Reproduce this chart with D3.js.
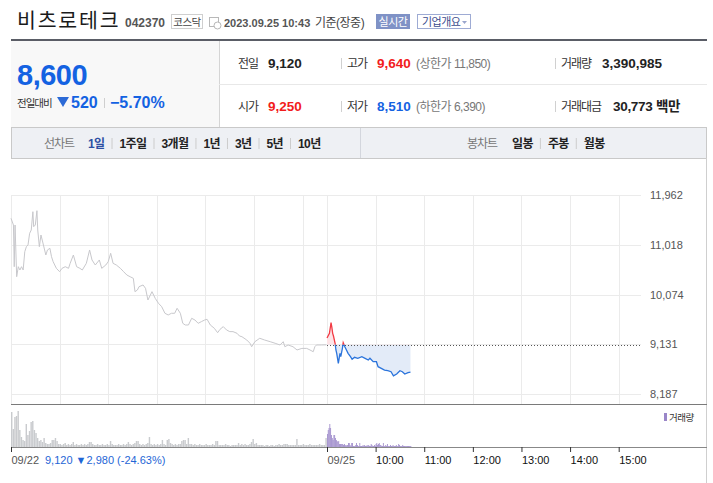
<!DOCTYPE html>
<html lang="ko">
<head>
<meta charset="utf-8">
<script src="https://cdn.jsdelivr.net/npm/d3@7"></script>
<style>
  html, body { margin: 0; padding: 0; background: #fff; }
  svg { display: block; }
</style>
</head>
<body>
<div id="chart"></div>
<script>
// fonts: latin from Liberation, hangul falls back to Noto CJK KR
const FONT = "'Liberation Sans', 'Noto Sans CJK KR', sans-serif";

// 09/22 price line (minutes after 09:00)
let prevMinute = [0, 3, 4, 5, 7, 9, 11, 13, 15, 17, 19, 21, 23, 25, 27, 28, 30, 32, 33, 35, 37, 40, 43, 45, 48, 50,
  52, 56, 60, 63, 67, 71, 73, 77, 81, 85, 88, 93, 97, 100, 104, 109, 112, 117, 120, 123, 126, 130, 135, 139, 143,
  147, 151, 153, 156, 158, 163, 166, 169, 172, 174, 178, 182, 186, 188, 190, 194, 198, 202, 205, 209, 212, 215, 219,
  223, 227, 231, 235, 239, 242, 246, 251, 255, 258, 262, 266, 270, 274, 279, 282, 285, 291, 295, 297, 301, 307, 313,
  320, 326, 332, 336, 338, 342, 348, 353, 359, 365, 369, 373, 375, 377, 383, 389];
let prevPrice = [11520, 11393, 10602, 11393, 10412, 10602, 10539, 10602, 10539, 10887, 10982, 11014, 11235, 11298,
  11645, 11361, 11393, 11664, 11298, 10982, 11203, 11014, 10824, 10919, 10951, 10792, 10697, 10571, 10507, 10571,
  10602, 10571, 10666, 10824, 10602, 10571, 10539, 10666, 10919, 10729, 10634, 10729, 10571, 10634, 10697, 10856,
  10666, 10634, 10571, 10507, 10444, 10412, 10381, 10128, 10160, 10223, 10255, 10192, 9970, 10065, 10128, 10002,
  9908, 9843, 9781, 9718, 9686, 9718, 9718, 9813, 9718, 9528, 9496, 9496, 9623, 9591, 9528, 9560, 9591, 9604, 9496,
  9433, 9350, 9414, 9465, 9402, 9370, 9370, 9338, 9287, 9274, 9211, 9149, 9084, 9179, 9244, 9211, 9179, 9149, 9117,
  9179, 9084, 9117, 9084, 9022, 9052, 9052, 9022, 8989, 9084, 9117, 9117, 9120];

// 09/25 price line (minutes after 09:00)
let todayMinute = [0, 3, 5, 6, 7, 8, 10, 11, 12, 14, 16, 17, 19, 20, 22, 24, 26, 29, 31, 34, 38, 43, 47, 51, 53,
  57, 61, 63, 67, 71, 75, 79, 82, 86, 90, 93, 96, 100, 103];
let todayPrice = [9250, 9338, 9540, 9452, 9338, 9287, 9149, 9022, 8958, 8769, 8958, 8895, 9054, 9160, 9084, 9022,
  8958, 8895, 8845, 8883, 8864, 8895, 8864, 8832, 8864, 8800, 8800, 8705, 8674, 8642, 8629, 8610, 8530, 8566, 8629,
  8610, 8566, 8591, 8600];

// volume, thousand shares: 09/22 in 2-minute buckets, 09/25 per minute
let prevVolume = [
  350, 180, 300, 310, 360, 170, 100, 70, 60, 230,
  120, 160, 250, 260, 170, 140, 90, 60, 70, 50,
  90, 40, 30, 30, 40, 70, 70, 90, 60, 30,
  30, 20, 30, 40, 20, 30, 20, 30, 50, 20,
  30, 20, 20, 30, 20, 30, 20, 30, 50, 50,
  30, 20, 20, 30, 20, 20, 30, 20, 20, 30,
  20, 60, 30, 20, 20, 20, 30, 20, 20, 30,
  20, 30, 50, 30, 20, 30, 40, 60, 60, 30,
  20, 30, 20, 30, 40, 100, 30, 20, 30, 20,
  30, 20, 30, 70, 30, 20, 70, 80, 40, 30,
  20, 30, 20, 30, 30, 60, 70, 70, 30, 90,
  30, 30, 20, 30, 20, 20, 30, 20, 20, 20,
  30, 20, 20, 20, 30, 20, 60, 60, 20, 20,
  20, 20, 30, 20, 20, 10, 20, 20, 20, 20,
  40, 20, 30, 20, 30, 20, 20, 30, 50, 80,
  30, 40, 20, 20, 20, 20, 10, 20, 20, 10,
  20, 20, 10, 20, 20, 30, 20, 20, 30, 30,
  30, 20, 20, 20, 20, 20, 80, 20, 20, 20,
  30, 20, 20, 20, 30, 20, 20, 20, 20, 20,
  30, 20, 20, 20, 90];
let todayVolume = [
  130, 170, 190, 230, 190, 120, 90, 70, 120, 120,
  90, 70, 60, 50, 60, 30, 30, 30, 30, 30,
  20, 30, 20, 10, 20, 20, 40, 40, 20, 10,
  40, 40, 10, 10, 10, 20, 40, 20, 10, 10,
  40, 10, 10, 10, 20, 10, 20, 10, 10, 20,
  10, 20, 10, 10, 30, 20, 10, 10, 20, 10,
  30, 40, 20, 30, 40, 20, 20, 10, 10, 40,
  10, 10, 20, 10, 30, 10, 10, 10, 20, 10,
  10, 20, 10, 10, 10, 20, 10, 10, 30, 20,
  10, 10, 10, 20, 10, 10, 10, 10, 10, 10,
  10, 10, 10, 10];

let prevClose = 9120;
let yTickValues = [8187, 9131, 10074, 11018, 11962];
let xTickMinute = [0, 390, 450, 510, 570, 630, 690, 750];
let xTickLabel = ["09/22", "09/25", "10:00", "11:00", "12:00", "13:00", "14:00", "15:00"];
let gridMinute = [0, 60, 120, 180, 240, 300, 360, 390, 450, 510, 570, 630, 690, 750];
let periodTabs = ["1일", "1주일", "3개월", "1년", "3년", "5년", "10년"];
let candleTabs = ["일봉", "주봉", "월봉"];

let svg = d3.select("#chart")
  .append("svg")
  .attr("width", 713)
  .attr("height", 483);

function fnText(parent, x, y, str, size, fill, weight, ls) {
  return parent.append("text")
    .attr("x", x)
    .attr("y", y)
    .attr("font-family", FONT)
    .attr("font-size", size)
    .attr("font-weight", weight || 400)
    .attr("letter-spacing", ls || 0)
    .attr("fill", fill)
    .text(str);
}

function fnBar(x1, y1, x2, y2, color) {
  svg.append("line")
    .attr("x1", x1).attr("y1", y1)
    .attr("x2", x2).attr("y2", y2)
    .attr("stroke", color);
}

// 1) header
fnText(svg, 17, 28, "비츠로테크", 20.5, "#1b1b1b", 400, 1.8);
fnText(svg, 125, 27, "042370", 12, "#555", 700);
svg.append("rect").attr("x", 171.5).attr("y", 14.5).attr("width", 31).attr("height", 14)
  .attr("fill", "#fff").attr("stroke", "#cfcfcf");
fnText(svg, 187, 25.5, "코스닥", 10.5, "#444", 400, -0.5).attr("text-anchor", "middle");
// little calendar/clock icon
svg.append("rect").attr("x", 209.5).attr("y", 17.5).attr("width", 9).attr("height", 9)
  .attr("fill", "none").attr("stroke", "#b8b8b8");
svg.append("circle").attr("cx", 217.5).attr("cy", 25.5).attr("r", 3.5)
  .attr("fill", "#fff").attr("stroke", "#b8b8b8");
fnText(svg, 224, 26.5, "2023.09.25 10:43", 11, "#555", 700);
fnText(svg, 315, 26.5, "기준(장중)", 12, "#444", 400, -0.5);
svg.append("rect").attr("x", 376).attr("y", 14).attr("width", 34).attr("height", 15).attr("fill", "#7f92c6");
fnText(svg, 393, 25.5, "실시간", 11, "#fff", 400, -0.5).attr("text-anchor", "middle");
svg.append("rect").attr("x", 417.5).attr("y", 14.5).attr("width", 53).attr("height", 14)
  .attr("fill", "#fff").attr("stroke", "#9eabd4");
fnText(svg, 422, 25.5, "기업개요", 11, "#3c4d8e", 400, -0.5);
svg.append("path").attr("d", "M462,21 L467,21 L464.5,24 Z").attr("fill", "#9aa6cc");
svg.append("rect").attr("x", 11).attr("y", 39).attr("width", 696).attr("height", 2).attr("fill", "#5a5d66");

// 2) quote summary
svg.append("rect").attr("x", 11).attr("y", 41).attr("width", 208).attr("height", 86).attr("fill", "#f8f8f8");
fnBar(219.5, 41, 219.5, 127, "#d5d5d5");
fnBar(219, 84.5, 707, 84.5, "#e8e8e8");
fnText(svg, 17, 85, "8,600", 29, "#1462e2", 700, -0.5);
fnText(svg, 17, 107, "전일대비", 10.5, "#333", 400, -1);
svg.append("path").attr("d", "M57,97 L69,97 L63,107 Z").attr("fill", "#2c6ad6");
fnText(svg, 71, 108, "520", 16, "#1462e2", 700);
fnBar(104.5, 98, 104.5, 108, "#cfcfcf");
fnText(svg, 110, 108, "−5.70%", 16, "#1462e2", 700);

fnText(svg, 238, 68, "전일", 12, "#333", 400, -1);
fnText(svg, 268, 68, "9,120", 13.5, "#222", 700);
fnBar(341.5, 58, 341.5, 69, "#d0d0d0");
fnText(svg, 347, 68, "고가", 12, "#333", 400, -1);
fnText(svg, 377, 68, "9,640", 13.5, "#f21c1c", 700);
fnText(svg, 416, 68, "(상한가 11,850)", 12, "#777", 400, -0.5);
fnBar(555.5, 58, 555.5, 69, "#d0d0d0");
fnText(svg, 561, 68, "거래량", 12, "#333", 400, -1);
fnText(svg, 602, 68, "3,390,985", 13.5, "#222", 700);

fnText(svg, 238, 111, "시가", 12, "#333", 400, -1);
fnText(svg, 268, 111, "9,250", 13.5, "#f21c1c", 700);
fnBar(341.5, 101, 341.5, 112, "#d0d0d0");
fnText(svg, 347, 111, "저가", 12, "#333", 400, -1);
fnText(svg, 377, 111, "8,510", 13.5, "#1462e2", 700);
fnText(svg, 416, 111, "(하한가 6,390)", 12, "#777", 400, -0.5);
fnBar(555.5, 101, 555.5, 112, "#d0d0d0");
fnText(svg, 561, 111, "거래대금", 12, "#333", 400, -1);
fnText(svg, 613, 111, "30,773 백만", 13.5, "#222", 700, -0.3);

// 3) tab bar
svg.append("rect").attr("x", 11.5).attr("y", 127.5).attr("width", 695).attr("height", 31)
  .attr("fill", "#eef0f4").attr("stroke", "#c9c9c9");
fnBar(360.5, 128, 360.5, 158, "#d3d6dd");
fnText(svg, 44, 148, "선차트", 12, "#777", 400, -1);
let intTabX = 88;
periodTabs.forEach((str, i) => {
  let t = fnText(svg, intTabX, 148, str, 12, i === 0 ? "#2d4fa3" : "#222", 700, -0.6);
  let w = t.node().getComputedTextLength();
  if (i < periodTabs.length - 1) fnBar(intTabX + w + 7.5, 138, intTabX + w + 7.5, 149, "#cccccc");
  intTabX += w + 15;
});
fnText(svg, 467, 148, "봉차트", 12, "#777", 400, -1);
intTabX = 512;
candleTabs.forEach((str, i) => {
  let t = fnText(svg, intTabX, 148, str, 12, "#222", 700, -0.6);
  let w = t.node().getComputedTextLength();
  if (i < candleTabs.length - 1) fnBar(intTabX + w + 7.5, 138, intTabX + w + 7.5, 149, "#cccccc");
  intTabX += w + 15;
});
fnBar(706.5, 158, 706.5, 483, "#cfcfcf");

// 4) scales
let fnX = d3.scaleLinear().domain([0, 780]).range([11, 643]);
let fnY = d3.scaleLinear().domain([8187, 11962]).range([394, 195]);
let fnV = d3.scaleLinear().domain([0, 360]).range([447, 411]);

let arrPrev = prevMinute.map((m, i) => ({ m: m, price: prevPrice[i] }));
let arrToday = todayMinute.map((m, i) => ({ m: 390 + m, price: todayPrice[i] }));

// 5) grid
let g = svg.append("g");
g.selectAll(".hgrid")
  .data(yTickValues)
  .enter()
  .append("line")
  .attr("class", "hgrid")
  .attr("x1", 11).attr("x2", 641)
  .attr("y1", d => Math.round(fnY(d)) + 0.5)
  .attr("y2", d => Math.round(fnY(d)) + 0.5)
  .attr("stroke", "#ebebeb");
g.selectAll(".vgrid")
  .data(gridMinute)
  .enter()
  .append("line")
  .attr("class", "vgrid")
  .attr("x1", d => Math.round(fnX(d)) + 0.5)
  .attr("x2", d => Math.round(fnX(d)) + 0.5)
  .attr("y1", 195).attr("y2", 404)
  .attr("stroke", "#ebebeb");

// 6) price lines
let yBase = fnY(prevClose);
svg.append("clipPath").attr("id", "clipUp")
  .append("rect").attr("x", 0).attr("y", 0).attr("width", 713).attr("height", yBase);
svg.append("clipPath").attr("id", "clipDown")
  .append("rect").attr("x", 0).attr("y", yBase).attr("width", 713).attr("height", 483 - yBase);

let fnLine = d3.line().x(d => fnX(d.m)).y(d => fnY(d.price));
let fnArea = d3.area().x(d => fnX(d.m)).y0(yBase).y1(d => fnY(d.price));

g.append("path").attr("d", fnArea(arrToday)).attr("fill", "#fde3e6").attr("clip-path", "url(#clipUp)");
g.append("path").attr("d", fnArea(arrToday)).attr("fill", "#e3ebf8").attr("clip-path", "url(#clipDown)");

g.append("line")
  .attr("x1", fnX(390)).attr("x2", 641)
  .attr("y1", Math.round(yBase) + 0.5).attr("y2", Math.round(yBase) + 0.5)
  .attr("stroke", "#555").attr("stroke-dasharray", "1,2");

g.append("path").attr("d", fnLine(arrPrev))
  .attr("fill", "none").attr("stroke", "#c8c8cc").attr("stroke-width", 1);
g.append("path").attr("d", fnLine(arrToday))
  .attr("fill", "none").attr("stroke", "#f23a44").attr("stroke-width", 1.3).attr("clip-path", "url(#clipUp)");
g.append("path").attr("d", fnLine(arrToday))
  .attr("fill", "none").attr("stroke", "#2b74dc").attr("stroke-width", 1.3).attr("clip-path", "url(#clipDown)");

// 7) y axis labels
let gY = svg.append("g")
  .attr("transform", "translate(650, 0)")
  .call(d3.axisRight(fnY).tickValues(yTickValues).tickSize(0).tickPadding(0).tickFormat(d3.format(",")));
gY.select(".domain").remove();
gY.selectAll("text")
  .attr("font-family", FONT)
  .attr("font-size", 11)
  .attr("fill", "#555");

// 8) volume panel
fnBar(11, 404.5, 707, 404.5, "#7a7a7a");
let intStep = fnX(2) - fnX(0);
g.selectAll(".vprev")
  .data(prevVolume)
  .enter()
  .append("rect")
  .attr("class", "vprev")
  .attr("x", (d, i) => fnX(i * 2))
  .attr("width", intStep - 0.2)
  .attr("y", d => fnV(d))
  .attr("height", d => 447 - fnV(d))
  .attr("fill", "#c9cbce");
g.selectAll(".vtoday")
  .data(todayVolume)
  .enter()
  .append("rect")
  .attr("class", "vtoday")
  .attr("x", (d, i) => fnX(390 + i))
  .attr("width", fnX(1) - fnX(0))
  .attr("y", d => fnV(d))
  .attr("height", d => 447 - fnV(d))
  .attr("fill", "#9a86c8");

svg.append("rect").attr("x", 664).attr("y", 413).attr("width", 3).attr("height", 8).attr("fill", "#9a86c8");
fnText(svg, 669, 420.5, "거래량", 9.5, "#333", 400, -0.5);

// 9) x axis
fnBar(11, 447.5, 707, 447.5, "#888");
let gX = svg.append("g")
  .attr("transform", "translate(0, 447)")
  .call(d3.axisBottom(fnX).tickValues(xTickMinute).tickSize(5).tickFormat((d, i) => xTickLabel[i]));
gX.select(".domain").remove();
gX.selectAll(".tick line").attr("stroke", "#333");
gX.selectAll("text")
  .attr("text-anchor", "start")
  .attr("x", 0)
  .attr("y", 9)
  .attr("font-family", FONT)
  .attr("font-size", 11)
  .attr("fill", (d, i) => i < 2 ? "#555" : "#111");

fnText(svg, 45, 464, "9,120 ▼2,980 (-24.63%)", 11, "#1f66d6", 400);
</script>
</body>
</html>
